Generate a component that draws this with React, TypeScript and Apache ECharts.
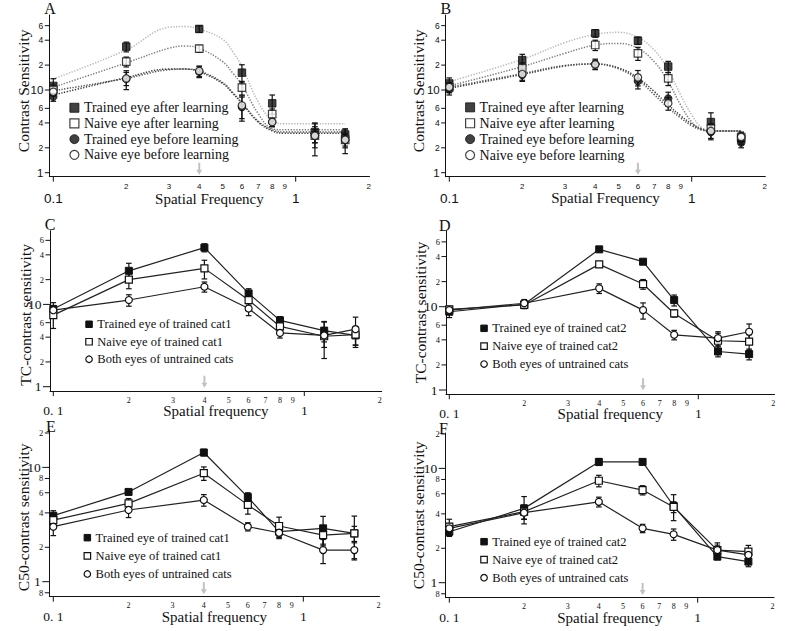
import React, { useEffect, useRef } from "react";
import * as echarts from "echarts";

// ---------- data ----------
const SF = [0.1, 0.2, 0.4, 0.6, 0.8, 1.2, 1.6];

// Panel A
const A_TRAINED_AFTER = [11.2, 33.4, 54.7, 16.2, 6.9, 3.1, 2.9];
const A_TRAINED_AFTER_ERR = [2.5, 4.5, 5, 4, 1.8, 0.8, 0.5];
const A_NAIVE_AFTER = [10.0, 22, 31.6, 10.7, 5.1, 2.8, 2.5];
const A_NAIVE_AFTER_ERR = [1.5, 3, 3, 2, 0.8, 0.5, 0.4];
const A_TRAINED_BEFORE = [8.3, 13.6, 16.6, 6.2, 4.1, 2.8, 2.5];
const A_TRAINED_BEFORE_ERR = [1.0, 3.5, 2.5, 2.0, 0.5, 0.8, 0.5];
const A_NAIVE_BEFORE = [9.5, 13.8, 17, 6.5, 4.1, 2.8, 2.5];
const A_NAIVE_BEFORE_ERR = [1.0, 2.5, 2.5, 2.0, 0.5, 1.2, 0.8];
const A_FIT_X = [0.1, 0.2, 0.3, 0.35, 0.4, 0.5, 0.55, 0.6, 0.7, 0.8, 0.9, 1.6];
const A_FIT_TRAINED_AFTER = [13.6, 30.5, 57.3, 58.5, 54.6, 41, 29, 19.2, 7.2, 4.25, 3.9, 3.9];
const A_FIT_NAIVE_AFTER = [10.8, 21.3, 32, 34, 31.9, 22, 16, 11.5, 5.2, 3.4, 3.3, 3.3];
const A_FIT_TRAINED_BEFORE = [8.7, 14.1, 17.9, 17.9, 16.6, 12.0, 9.1, 6.9, 4.1, 3.2, 3.0, 3.0];
const A_FIT_NAIVE_BEFORE = [9.8, 13.8, 17.6, 17.9, 17.0, 12.3, 9.3, 7.0, 4.2, 3.3, 3.1, 3.1];

// Panel B
const B_TRAINED_AFTER = [12, 23, 48.5, 39.5, 19.2, 4.1, 2.6];
const B_TRAINED_AFTER_ERR = [2, 4, 5, 4, 3, 1.2, 0.4];
const B_NAIVE_AFTER = [10.8, 18.3, 35, 27.8, 13.8, 3.4, 2.7];
const B_NAIVE_AFTER_ERR = [1.5, 3, 5, 5, 2.5, 0.5, 0.4];
const B_TRAINED_BEFORE = [10.2, 15.2, 20.6, 12.8, 7.9, 3.1, 2.3];
const B_TRAINED_BEFORE_ERR = [1.5, 2.5, 3, 2.5, 1.5, 0.6, 0.3];
const B_NAIVE_BEFORE = [10.8, 15.6, 20.4, 14.2, 6.9, 3.2, 2.7];
const B_NAIVE_BEFORE_ERR = [1.5, 2.5, 2.5, 3, 1.2, 0.6, 0.3];
const B_FIT_X = [0.1, 0.2, 0.3, 0.4, 0.5, 0.6, 0.7, 0.8, 0.9, 1.0, 1.1, 1.2, 1.6];
const B_FIT_TRAINED_AFTER = [12.6, 23.5, 37.4, 47, 49.8, 43.3, 30.5, 17.5, 8.7, 5.0, 3.5, 3.2, 3.2];
const B_FIT_NAIVE_AFTER = [11.2, 19.2, 27.8, 35, 36.6, 31.9, 22, 12.6, 6.6, 4.1, 3.3, 3.2, 3.2];
const B_FIT_TRAINED_BEFORE = [10.5, 15.4, 19.5, 20.6, 18.5, 14.0, 9.6, 6.6, 4.9, 3.9, 3.4, 3.2, 3.2];
const B_FIT_NAIVE_BEFORE = [10.8, 15.8, 19.8, 20.6, 18.0, 13.3, 8.8, 6.1, 4.6, 3.7, 3.3, 3.2, 3.2];

// Panel C
const C_TRAINED = [8.8, 25.6, 49, 13.6, 6.4, 4.8, 4.2];
const C_TRAINED_ERR = [1.7, 6, 5.5, 1.9, 0.7, 1.3, 1.0];
const C_NAIVE = [7.4, 20, 27.4, 11.3, 5.4, 4.1, 4.3];
const C_NAIVE_ERR = [2.3, 4.5, 7, 1.5, 0.6, 1.1, 1.1];
const C_UNTRAINED = [8.5, 11.3, 16.4, 8.9, 4.5, 4.2, 5.0];
const C_UNTRAINED_ERR = [1.0, 1.8, 2.3, 1.6, 0.6, 2.0, 2.0];

// Panel D
const D_TRAINED = [8.7, 10.7, 48.8, 34.7, 12, 2.9, 2.7];
const D_TRAINED_ERR = [1.3, 1.2, 2, 1.5, 1.8, 0.4, 0.4];
const D_NAIVE = [9.3, 10.5, 32.2, 18.7, 8.3, 3.9, 3.8];
const D_NAIVE_ERR = [0.8, 1.0, 2.5, 2.5, 0.8, 0.9, 0.8];
const D_UNTRAINED = [9.1, 11, 16.6, 9.1, 4.6, 4.2, 5.0];
const D_UNTRAINED_ERR = [0.8, 1.2, 2.2, 2.0, 0.6, 0.8, 1.2];

// Panel E
const E_TRAINED = [3.78, 6.1, 13.5, 5.5, 2.74, 2.93, 2.65];
const E_TRAINED_ERR = [0.4, 0.3, 0.9, 0.5, 0.3, 0.8, 1.1];
const E_NAIVE = [3.46, 4.84, 8.9, 4.7, 3.07, 2.56, 2.65];
const E_NAIVE_ERR = [0.5, 0.5, 1.2, 0.8, 0.6, 0.5, 0.4];
const E_UNTRAINED = [3.03, 4.24, 5.18, 3.03, 2.68, 1.89, 1.89];
const E_UNTRAINED_ERR = [0.5, 0.6, 0.6, 0.25, 0.3, 0.45, 0.3];

// Panel F
const F_TRAINED = [2.79, 4.47, 11.4, 11.4, 4.69, 1.69, 1.53];
const F_TRAINED_ERR = [0.25, 1.2, 0.8, 0.6, 1.2, 0.1, 0.15];
const F_NAIVE = [3.09, 4.18, 7.8, 6.46, 4.6, 1.93, 1.87];
const F_NAIVE_ERR = [0.5, 0.6, 0.9, 0.6, 0.5, 0.3, 0.25];
const F_UNTRAINED = [2.99, 4.1, 5.1, 2.99, 2.65, 1.93, 1.75];
const F_UNTRAINED_ERR = [0.3, 0.5, 0.5, 0.25, 0.3, 0.2, 0.2];

// ticks
const X_TICKS = [0.1, 0.2, 0.3, 0.4, 0.5, 0.6, 0.7, 0.8, 0.9, 1, 2];
const X_TICK_LABELS_AB = ["0.1", "2", "3", "4", "5", "6", "7", "8", "9", "1", "2"];
const X_TICK_LABELS_CF = ["0. 1", "2", "3", "4", "5", "6", "7", "8", "9", "1", "2"];
const Y_TICKS_AD = [1, 2, 4, 6, 10, 20, 40, 60];
const Y_TICK_LABELS_AD = ["1", "2", "4", "6", "10", "2", "4", "6"];
const Y_TICKS_EF = [0.8, 1, 2, 4, 6, 8, 10, 20];
const Y_TICK_LABELS_EF = ["8", "1", "2", "4", "6", "8", "10", "2"];

const NAMES_AB = [
  "Trained eye after learning",
  "Naive eye after learning",
  "Trained eye before learning",
  "Naive eye before learning",
];
const NAMES_C1 = ["Trained eye of trained cat1", "Naive eye of trained cat1", "Both eyes of untrained cats"];
const NAMES_C2 = ["Trained eye of trained cat2", "Naive eye of trained cat2", "Both eyes of untrained cats"];

// ---------- styles / layout ----------
const SERIF = "Liberation Serif";
const SANS = "Liberation Sans";
const INK = "#111";
const ARROW = "path://M2,0 L4,0 L4,7 L6,7 L3,12 L0,7 L2,7 Z";

type Marker = "filledSq" | "openSq" | "filledCirc" | "openCirc";
const markerStyle = (m: Marker) => ({
  symbol: m.endsWith("Sq") ? "rect" : "circle",
  itemStyle: m.startsWith("filled")
    ? { color: INK, borderColor: INK, borderWidth: 1 }
    : { color: "#fff", borderColor: INK, borderWidth: 1.2 },
});

const LAYOUT: Record<string, any> = {
  A: { l: 49.3, r: 369.5, t: 15, b: 176.7, x01: 53.3, xdec: 242.4, y1: 172.7, ydec: 82.7, xGap: 14.5, yGap: 17.5, yPad: [0, 0, 0, 10], letter: [50, 8.5], lg: { left: 69.3, top: 99.9, size: 9, pitch: 15.7, font: 14 }, arrowY: 1.12, style: "AB", ms: 7.5 },
  B: { l: 445.7, r: 765.3, t: 15, b: 176.7, x01: 449.3, xdec: 242.4, y1: 172.7, ydec: 82.7, xGap: 13.5, yGap: 19, yPad: [0, 0, 0, 10], letter: [445.8, 8.5], lg: { left: 465, top: 99.4, size: 9, pitch: 15.9, font: 14 }, arrowY: 1.12, style: "AB", ms: 7.5 },
  C: { l: 50, r: 381.7, t: 230.7, b: 391, x01: 53.3, xdec: 251, y1: 386.7, ydec: 82.3, xGap: 12.5, yGap: 16.7, yPad: [0, 8, 0, 0], letter: [50, 224], lg: { left: 85.2, top: 315.5, size: 6.5, pitch: 17.5, font: 12.5 }, arrowY: 1.15, style: "CF", ms: 7 },
  D: { l: 446, r: 774.5, t: 230.7, b: 394.3, x01: 449.3, xdec: 249, y1: 390, ydec: 83.3, xGap: 12.5, yGap: 17.7, yPad: [0, 0, 0, 0], letter: [444.7, 225], lg: { left: 480.2, top: 319.4, size: 6.5, pitch: 17.85, font: 12.5 }, arrowY: 1.17, style: "CF", ms: 7 },
  E: { l: 49.3, r: 379.5, t: 430, b: 596.7, x01: 53.3, xdec: 250, y1: 581.7, ydec: 114.3, xGap: 12.5, yGap: 17.6, yPad: [0, 8, 0, 0], letter: [50.8, 426.7], lg: { left: 83.5, top: 528.6, size: 6.5, pitch: 18.15, font: 12.5 }, arrowY: 0.875, style: "CF", ms: 7 },
  F: { l: 445.7, r: 774, t: 433, b: 597.7, x01: 449.3, xdec: 248.4, y1: 582.7, ydec: 114.3, xGap: 12.5, yGap: 19, yPad: [0, 0, 0, 0], letter: [443.5, 428.3], lg: { left: 480.2, top: 532.7, size: 6.5, pitch: 18, font: 12.5 }, arrowY: 0.88, style: "CF", ms: 7 },
};

const MK_AB: Marker[] = ["filledSq", "openSq", "filledCirc", "openCirc"];
const MK_CF: Marker[] = ["filledSq", "openSq", "openCirc"];
const FIT_COLORS = ["#b8b8b8", "#7c7c7c", "#3c3c3c", "#555555"];

const PANELS: Record<string, any> = {
  A: {
    yName: "Contrast Sensitivity", xName: "Spatial Frequency", arrowX: 0.4, names: NAMES_AB, markers: MK_AB,
    ys: [A_TRAINED_AFTER, A_NAIVE_AFTER, A_TRAINED_BEFORE, A_NAIVE_BEFORE],
    errs: [A_TRAINED_AFTER_ERR, A_NAIVE_AFTER_ERR, A_TRAINED_BEFORE_ERR, A_NAIVE_BEFORE_ERR],
    fitX: A_FIT_X, fits: [A_FIT_TRAINED_AFTER, A_FIT_NAIVE_AFTER, A_FIT_TRAINED_BEFORE, A_FIT_NAIVE_BEFORE],
    yTicks: Y_TICKS_AD, yLabels: Y_TICK_LABELS_AD, xLabels: X_TICK_LABELS_AB,
  },
  B: {
    yName: "Contrast Sensitivity", xName: "Spatial Frequency", arrowX: 0.6, names: NAMES_AB, markers: MK_AB,
    ys: [B_TRAINED_AFTER, B_NAIVE_AFTER, B_TRAINED_BEFORE, B_NAIVE_BEFORE],
    errs: [B_TRAINED_AFTER_ERR, B_NAIVE_AFTER_ERR, B_TRAINED_BEFORE_ERR, B_NAIVE_BEFORE_ERR],
    fitX: B_FIT_X, fits: [B_FIT_TRAINED_AFTER, B_FIT_NAIVE_AFTER, B_FIT_TRAINED_BEFORE, B_FIT_NAIVE_BEFORE],
    yTicks: Y_TICKS_AD, yLabels: Y_TICK_LABELS_AD, xLabels: X_TICK_LABELS_AB,
  },
  C: {
    yName: "TC-contrast sensitivity", xName: "Spatial frequency", arrowX: 0.4, names: NAMES_C1, markers: MK_CF,
    ys: [C_TRAINED, C_NAIVE, C_UNTRAINED], errs: [C_TRAINED_ERR, C_NAIVE_ERR, C_UNTRAINED_ERR],
    yTicks: Y_TICKS_AD, yLabels: Y_TICK_LABELS_AD, xLabels: X_TICK_LABELS_CF,
  },
  D: {
    yName: "TC-contrast sensitivity", xName: "Spatial frequency", arrowX: 0.6, names: NAMES_C2, markers: MK_CF,
    ys: [D_TRAINED, D_NAIVE, D_UNTRAINED], errs: [D_TRAINED_ERR, D_NAIVE_ERR, D_UNTRAINED_ERR],
    yTicks: Y_TICKS_AD, yLabels: Y_TICK_LABELS_AD, xLabels: X_TICK_LABELS_CF,
  },
  E: {
    yName: "C50-contrast sensitivity", xName: "Spatial frequency", arrowX: 0.4, names: NAMES_C1, markers: MK_CF,
    ys: [E_TRAINED, E_NAIVE, E_UNTRAINED], errs: [E_TRAINED_ERR, E_NAIVE_ERR, E_UNTRAINED_ERR],
    yTicks: Y_TICKS_EF, yLabels: Y_TICK_LABELS_EF, xLabels: X_TICK_LABELS_CF,
  },
  F: {
    yName: "C50-contrast sensitivity", xName: "Spatial frequency", arrowX: 0.6, names: NAMES_C2, markers: MK_CF,
    ys: [F_TRAINED, F_NAIVE, F_UNTRAINED], errs: [F_TRAINED_ERR, F_NAIVE_ERR, F_UNTRAINED_ERR],
    yTicks: Y_TICKS_EF, yLabels: Y_TICK_LABELS_EF, xLabels: X_TICK_LABELS_CF,
  },
};

const isMajor = (v: number) => Math.abs(Math.log10(v) - Math.round(Math.log10(v))) < 1e-9;

function buildOption() {
  const grid: any[] = [];
  const xAxis: any[] = [];
  const yAxis: any[] = [];
  const series: any[] = [];
  const legend: any[] = [];
  const graphic: any[] = [];

  ["A", "B", "C", "D", "E", "F"].forEach((key, gi) => {
    const L = LAYOUT[key];
    const P = PANELS[key];
    const ab = L.style === "AB";
    const xMin = Math.pow(10, -1 - (L.x01 - L.l) / L.xdec);
    const xMax = Math.pow(10, -1 + (L.r - L.x01) / L.xdec);
    const yMin = Math.pow(10, -(L.b - L.y1) / L.ydec);
    const yMax = Math.pow(10, (L.y1 - L.t) / L.ydec);

    grid.push({ left: L.l, top: L.t, width: L.r - L.l, height: L.b - L.t, outerBoundsMode: "none", containLabel: false });
    const axisCommon = {
      type: "log", logBase: 10, gridIndex: gi,
      axisLine: { show: true, onZero: false, lineStyle: { color: INK, width: 1 } },
      axisTick: { show: false }, axisLabel: { show: false }, splitLine: { show: false }, minorTick: { show: false },
      nameLocation: "middle",
    };
    xAxis.push({
      ...axisCommon, min: xMin, max: xMax, name: P.xName, nameGap: L.xGap,
      nameTextStyle: { fontFamily: SERIF, fontSize: 15, color: INK, verticalAlign: "top" },
    });
    yAxis.push({
      ...axisCommon, min: yMin, max: yMax, name: P.yName, nameGap: L.yGap, nameRotate: 90,
      nameTextStyle: { fontFamily: SERIF, fontSize: 15.5, color: INK, padding: L.yPad },
    });

    // x ticks (major only) + labels
    const tickFont = ab ? SANS : SERIF;
    series.push({
      type: "custom", xAxisIndex: gi, yAxisIndex: gi, silent: true, z: 5,
      data: X_TICKS.map((v) => [v, yMin]),
      renderItem: (params: any, api: any) => {
        const i = params.dataIndex;
        const p = api.coord([api.value(0), api.value(1)]);
        const major = isMajor(X_TICKS[i]);
        const children: any[] = [];
        if (major) {
          children.push({ type: "line", shape: { x1: p[0], y1: p[1], x2: p[0], y2: p[1] + 5 }, style: { stroke: INK, lineWidth: 1 } });
        }
        children.push({
          type: "text", x: p[0], y: p[1] + (major ? (ab ? 22 : 19.5) : (ab ? 9.8 : 9)),
          style: { text: P.xLabels[i], align: "center", verticalAlign: "middle", fontFamily: tickFont, fontSize: major ? 13.5 : 8, fill: INK },
        });
        return { type: "group", children };
      },
    });
    // y ticks + labels
    series.push({
      type: "custom", xAxisIndex: gi, yAxisIndex: gi, silent: true, z: 5,
      data: P.yTicks.map((v: number) => [xMin, v]),
      renderItem: (params: any, api: any) => {
        const i = params.dataIndex;
        const p = api.coord([api.value(0), api.value(1)]);
        const major = isMajor(P.yTicks[i]);
        const tl = major && !ab ? 7 : 4.5;
        return {
          type: "group",
          children: [
            { type: "line", shape: { x1: p[0] - tl, y1: p[1], x2: p[0], y2: p[1] }, style: { stroke: INK, lineWidth: 1 } },
            {
              type: "text", x: p[0] - (major && !ab ? 8.5 : 6), y: p[1],
              style: {
                text: P.yLabels[i], align: "right", verticalAlign: "middle", fontFamily: tickFont,
                fontSize: major ? (ab ? 11.5 : 13.5) : 8.5, fill: INK,
              },
            },
          ],
        };
      },
    });

    // fitted curves (A, B)
    if (P.fits) {
      P.fits.forEach((fy: number[], k: number) => {
        series.push({
          type: "line", xAxisIndex: gi, yAxisIndex: gi, silent: true, z: 1, smooth: 0.4,
          symbol: "none", data: P.fitX.map((x: number, i: number) => [x, fy[i]]),
          lineStyle: { color: FIT_COLORS[k], width: 1.5, type: [1.3, 1.5] },
        });
      });
    }

    // error bars
    P.ys.forEach((ys: number[], k: number) => {
      const errs = P.errs[k];
      series.push({
        type: "custom", xAxisIndex: gi, yAxisIndex: gi, silent: true, z: 2,
        data: SF.map((x, i) => [x, ys[i] - errs[i], ys[i] + errs[i]]),
        encode: { x: 0, y: [1, 2] },
        renderItem: (params: any, api: any) => {
          const lo = api.coord([api.value(0), api.value(1)]);
          const hi = api.coord([api.value(0), api.value(2)]);
          const w = 2.8;
          return {
            type: "group",
            children: [
              { type: "line", shape: { x1: lo[0], y1: lo[1], x2: hi[0], y2: hi[1] }, style: { stroke: INK, lineWidth: 1.2 } },
              { type: "line", shape: { x1: lo[0] - w, y1: lo[1], x2: lo[0] + w, y2: lo[1] }, style: { stroke: INK, lineWidth: 1.2 } },
              { type: "line", shape: { x1: hi[0] - w, y1: hi[1], x2: hi[0] + w, y2: hi[1] }, style: { stroke: INK, lineWidth: 1.2 } },
            ],
          };
        },
      });
    });

    // data series
    P.ys.forEach((ys: number[], k: number) => {
      const ms = markerStyle(P.markers[k]);
      const s: any = {
        name: P.names[k], xAxisIndex: gi, yAxisIndex: gi, z: 4,
        data: SF.map((x, i) => [x, ys[i]]),
        symbol: ms.symbol, symbolSize: L.ms, itemStyle: ms.itemStyle,
      };
      if (ab) {
        s.type = "scatter";
      } else {
        s.type = "line";
        s.showSymbol = true;
        s.lineStyle = { color: "#222", width: 1.2 };
      }
      if (k === 0) {
        s.markPoint = {
          silent: true, symbol: ARROW, symbolSize: [6, 12], symbolKeepAspect: false,
          itemStyle: { color: "#c2c2c2" }, label: { show: false },
          data: [{ coord: [P.arrowX, L.arrowY] }],
        };
      }
      series.push(s);
    });

    // legend
    const lgText = { fontFamily: SERIF, fontSize: L.lg.font, color: INK, lineHeight: L.lg.pitch };
    legend.push({
      orient: "vertical", left: L.lg.left, top: L.lg.top, padding: 0, itemGap: 0,
      itemWidth: L.lg.size, itemHeight: L.lg.size, selectedMode: false,
      textStyle: { ...lgText },
      data: P.names.map((n: string, k: number) => {
        const ms = markerStyle(P.markers[k]);
        return { name: n, icon: ms.symbol, itemStyle: { ...ms.itemStyle }, textStyle: { ...lgText } };
      }),
    });

    // panel letter
    graphic.push({
      type: "text", x: L.letter[0], y: L.letter[1],
      style: { text: key, fontFamily: SERIF, fontSize: 16, fill: INK, align: "center", verticalAlign: "middle" },
    });
  });

  return { animation: false, backgroundColor: "#fff", grid, xAxis, yAxis, series, legend, graphic };
}

export default function App() {
  const ref = useRef<HTMLDivElement>(null);
  useEffect(() => {
    const chart = echarts.init(ref.current as HTMLDivElement, null, { renderer: "svg" });
    chart.setOption(buildOption() as any);
    return () => chart.dispose();
  }, []);
  return <div ref={ref} style={{ position: "absolute", left: 0, top: 0, width: 800, height: 631 }} />;
}
